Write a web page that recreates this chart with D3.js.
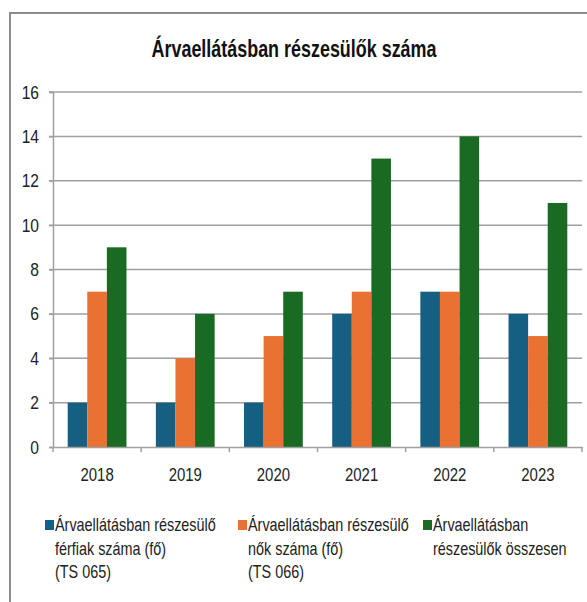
<!DOCTYPE html>
<html><head><meta charset="utf-8">
<script src="https://cdn.jsdelivr.net/npm/d3@7"></script>
<style>body{margin:0;background:#fff}</style>
</head><body>
<svg id="c" width="587" height="602"></svg>
<script>
const years = ["2018","2019","2020","2021","2022","2023"];
const seriesNames = [
  ["Árvaellátásban részesülő","férfiak száma (fő)","(TS 065)"],
  ["Árvaellátásban részesülő","nők száma (fő)","(TS 066)"],
  ["Árvaellátásban","részesülők összesen"]
];
const men = [2,2,2,6,7,6];
const women = [7,4,5,7,7,5];
const total = [9,6,7,13,14,11];
const yTicks = [0,2,4,6,8,10,12,14,16];
const colors = ["#156082","#E97132","#196B24"];
const title = "Árvaellátásban részesülők száma";

const series = [men, women, total];
const svg = d3.select("#c");
const W = 587, H = 602;
const pL = 53, pR = 582, pT = 92, pB = 447;
const FONT = "'Liberation Sans',Arial,sans-serif";

function squeeze(sel, f){
  sel.each(function(){
    const n = this.getComputedTextLength();
    d3.select(this).attr("textLength", n*f).attr("lengthAdjust","spacingAndGlyphs");
  });
}

// frame
svg.append("path").attr("d",`M10,${H+2} L10,13 L${W+2},13`).attr("fill","none").attr("stroke","#8c8c8c").attr("stroke-width",2);

svg.append("text").attr("transform","translate(294,57) scale(0.78,1)").attr("text-anchor","middle")
  .attr("font-family",FONT).attr("font-weight","bold")
  .attr("font-size",23).attr("fill","#111").text(title);

const x0 = d3.scaleBand().domain(years).range([pL,pR]).padding(0);
const x1 = d3.scaleBand().domain([0,1,2]).range([0,x0.bandwidth()]).paddingInner(0).paddingOuter(0.75);
const y = d3.scaleLinear().domain([0,16]).range([pB,pT]);

// gridlines
svg.append("g").selectAll("line").data(yTicks.filter(d=>d>0)).join("line")
  .attr("x1",pL-4).attr("x2",pR).attr("y1",d=>y(d)).attr("y2",d=>y(d))
  .attr("stroke","#a0a0a0").attr("stroke-width",1.5);

// y axis
const ya = svg.append("g").attr("transform",`translate(${pL},0)`)
  .call(d3.axisLeft(y).tickValues(yTicks).tickSize(4).tickPadding(10));
ya.select(".domain").attr("stroke","#a0a0a0").attr("stroke-width",1.5);
ya.selectAll(".tick line").attr("stroke","#a0a0a0").attr("stroke-width",1.5);
ya.selectAll("text").attr("font-family",FONT).attr("font-size",19).attr("fill","#222");
squeeze(ya.selectAll("text"), 0.82);

// bars
const g = svg.append("g");
series.forEach((vals,si)=>{
  g.append("g").selectAll("rect").data(vals).join("rect")
    .attr("x",(d,i)=>x0(years[i])+x1(si)).attr("width",x1.bandwidth())
    .attr("y",d=>y(d)).attr("height",d=>y(0)-y(d))
    .attr("fill",colors[si]);
});

// x axis
const xa = svg.append("g").attr("transform",`translate(0,${pB})`)
  .call(d3.axisBottom(x0).tickSize(0).tickPadding(21));
xa.select(".domain").attr("stroke","#a0a0a0").attr("stroke-width",1.5);
xa.selectAll("text").attr("font-family",FONT).attr("font-size",18).attr("fill","#222");
squeeze(xa.selectAll("text"), 0.83);
// category boundary ticks
const bounds = years.map(d=>x0(d)).concat([pR]);
svg.append("g").selectAll("line").data(bounds).join("line")
  .attr("x1",d=>d).attr("x2",d=>d).attr("y1",pB).attr("y2",pB+5)
  .attr("stroke","#a0a0a0").attr("stroke-width",1.5);

// legend
const legX = [45,238,423];
const lg = svg.append("g");
seriesNames.forEach((lines,i)=>{
  lg.append("rect").attr("x",legX[i]).attr("y",520).attr("width",9).attr("height",10).attr("fill",colors[i]);
  lines.forEach((ln,j)=>{
    lg.append("text").attr("font-family",FONT).attr("font-size",18).attr("fill","#222")
      .attr("transform",`translate(${legX[i]+10},${531+j*23.5}) scale(0.8,1)`).text(ln);
  });
});
</script>
</body></html>
